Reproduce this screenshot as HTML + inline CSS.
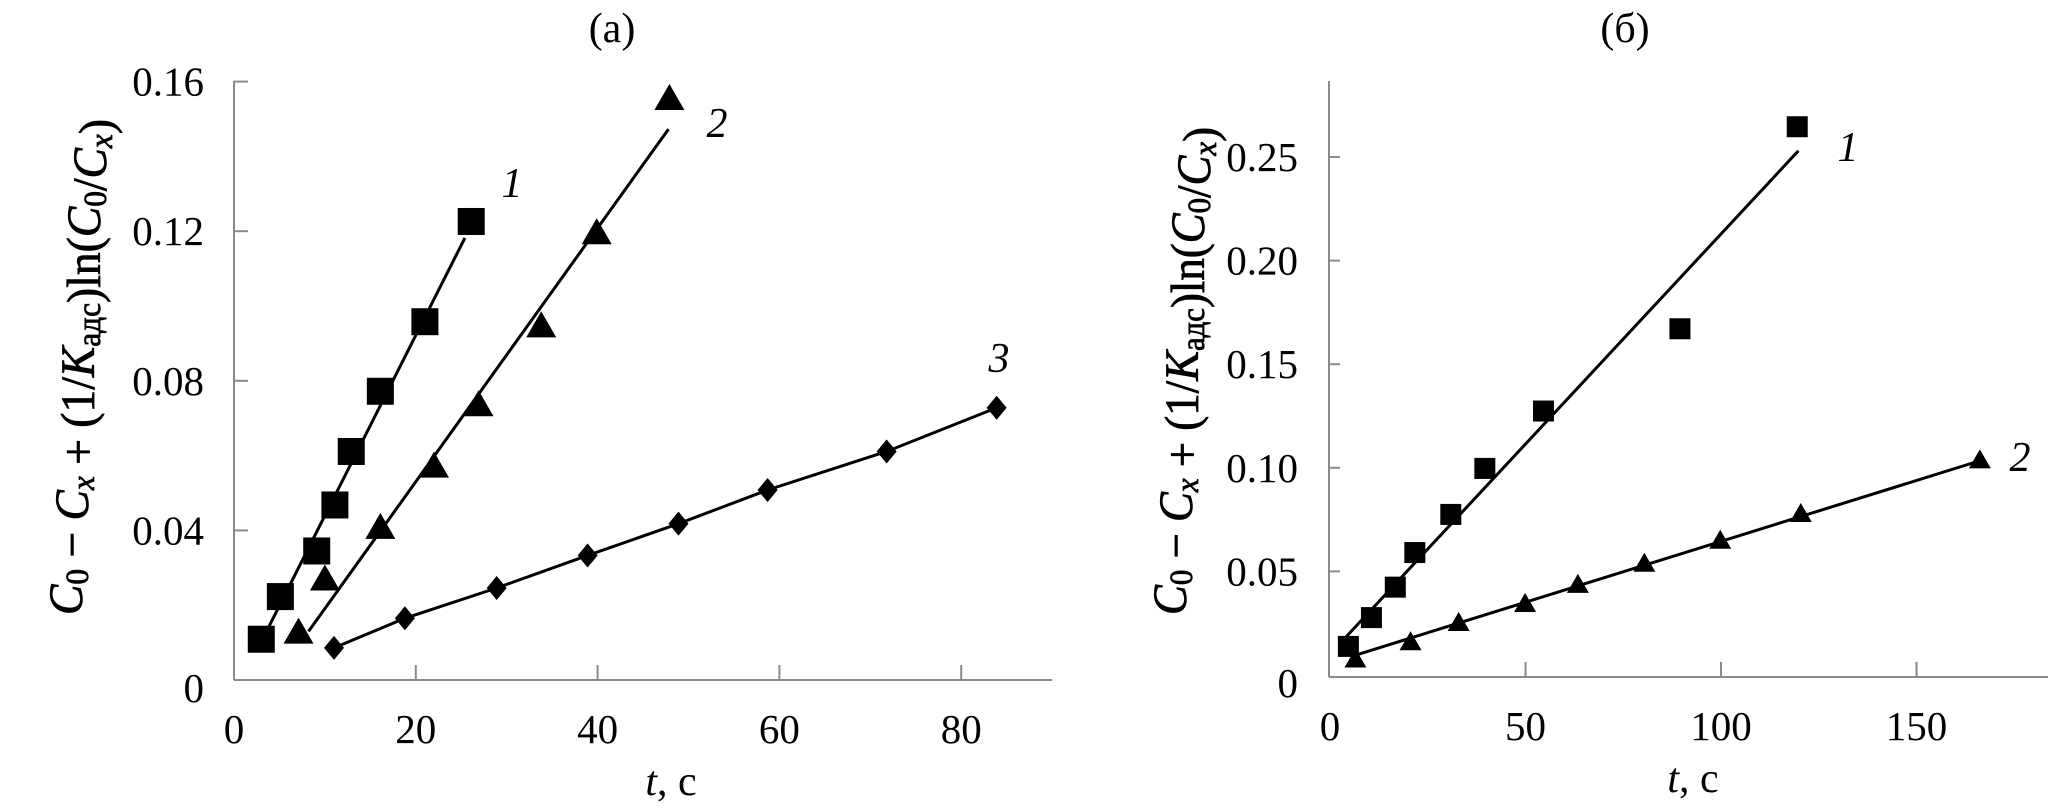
<!DOCTYPE html>
<html><head><meta charset="utf-8"><style>
html,body{margin:0;padding:0;background:#fff;}
svg{display:block;font-family:"Liberation Serif",serif;}
</style></head><body>
<svg id="fig" width="2067" height="812" viewBox="0 0 2067 812" xmlns="http://www.w3.org/2000/svg">
<g id="pa"></g>
<g id="pb"></g>
</svg>
<script>
// Panel (a) data
const aXTicks = [0, 20, 40, 60, 80];
const aYTicks = [0, 0.04, 0.08, 0.12, 0.16];
const aYTickLabels = ["0", "0.04", "0.08", "0.12", "0.16"];
const a1T = [3.0, 5.1, 9.1, 11.1, 12.9, 16.1, 21.0, 26.1];
const a1V = [0.0109, 0.0223, 0.0345, 0.0468, 0.0611, 0.0772, 0.0958, 0.1226];
const a1FitT = [3.8, 25.4];
const a1FitV = [0.0141, 0.1182];
const a2T = [7.1, 10.0, 16.1, 22.0, 26.9, 33.8, 39.9, 47.9];
const a2V = [0.0125, 0.0267, 0.0405, 0.0569, 0.0733, 0.0944, 0.1193, 0.1552];
const a2FitT = [8.2, 47.8];
const a2FitV = [0.0130, 0.1473];
const a3T = [11.0, 18.8, 28.9, 38.9, 48.9, 58.7, 71.8, 83.9];
const a3V = [0.0086, 0.0165, 0.0246, 0.0333, 0.0418, 0.0508, 0.0611, 0.0728];
// Panel (b) data
const bXTicks = [0, 50, 100, 150];
const bYTicks = [0, 0.05, 0.10, 0.15, 0.20, 0.25];
const bYTickLabels = ["0", "0.05", "0.10", "0.15", "0.20", "0.25"];
const b1T = [4.7, 10.6, 16.7, 21.7, 30.9, 39.6, 54.6, 89.5, 119.5];
const b1V = [0.0138, 0.0277, 0.0424, 0.0591, 0.0775, 0.0997, 0.1274, 0.1671, 0.2646];
const b1FitT = [4.1, 119.8];
const b1FitV = [0.0184, 0.253];
const b2T = [6.5, 20.6, 32.9, 49.9, 63.4, 80.4, 99.8, 120.4, 166.2];
const b2V = [0.0073, 0.0156, 0.0249, 0.0341, 0.0433, 0.0535, 0.0646, 0.0775, 0.1034];
const b2FitT = [5.9, 166.2];
const b2FitV = [0.0092, 0.1034];

const NS = "http://www.w3.org/2000/svg";
function mk(parent, tag, attrs, text) {
  const e = document.createElementNS(NS, tag);
  for (const k in attrs) e.setAttribute(k, attrs[k]);
  if (text !== undefined) e.textContent = text;
  parent.appendChild(e);
  return e;
}

function axes(g, cfg) {
  const ax = mk(g, "line", {x1: cfg.x0, y1: cfg.y0, x2: cfg.xEnd, y2: cfg.y0, stroke: "#8a8a8a", "stroke-width": 2});
  
  
  const ay = mk(g, "line", {x1: cfg.x0, y1: cfg.y0, x2: cfg.x0, y2: cfg.yTop, stroke: "#8a8a8a", "stroke-width": 2});
  
  
  cfg.xTicks.forEach(t => {
    const x = cfg.sx(t);
    if (t !== 0) {
      const tk = mk(g, "line", {x1: x, y1: cfg.y0, x2: x, y2: cfg.y0 - 15, stroke: "#8a8a8a", "stroke-width": 2});
      
      
    }
    const lb = mk(g, "text", {x: x, y: cfg.y0 + 63, "font-size": 41, "text-anchor": "middle"}, String(t));
    
    
  });
  cfg.yTicks.forEach((v, i) => {
    const y = cfg.sy(v);
    if (v !== 0) {
      const tk = mk(g, "line", {x1: cfg.x0, y1: y, x2: cfg.x0 + cfg.tickIn, y2: y, stroke: "#8a8a8a", "stroke-width": 2});
      
      
    }
    const lb = mk(g, "text", {x: cfg.labelX, y: y + 14 + (v === 0 ? 8 : 0), "font-size": 41, "text-anchor": "end"}, cfg.yLabels[i]);
    
    
  });
  const xt = mk(g, "text", {x: cfg.xTitleX, y: cfg.y0 + 115, "font-size": 42, "text-anchor": "middle"});
  
  
  mk(xt, "tspan", {"font-style": "italic"}, "t");
  mk(xt, "tspan", {}, ", с");
  const yt = mk(g, "text", {x: 0, y: 0, "font-size": 48, "text-anchor": "middle", stroke: "#000", "stroke-width": 0.8,
    transform: `translate(${cfg.yTitleX},${cfg.yTitleY}) rotate(-90)`, textLength: cfg.yTitleLen, lengthAdjust: "spacingAndGlyphs"});
  
  
  const parts = [["C","i"],["0","s"],[" − ",""],["C","i"],["x","si"],[" + (1/",""],["K","i"],["адс","s"],[")ln(",""],["C","i"],["0","s"],["/",""],["C","i"],["x","si"],[")",""]];
  parts.forEach(p => {
    const a = {};
    if (p[1].includes("i")) a["font-style"] = "italic";
    if (p[1].includes("s")) { a["font-size"] = 33; a["dy"] = 6; }
    mk(yt, "tspan", a, p[0]);
    if (p[1].includes("s")) { mk(yt, "tspan", {dy: -6}, ""); }
  });
  const tt = mk(g, "text", {x: cfg.titleX, y: 42, "font-size": 42, "text-anchor": "middle"}, cfg.title);
  
  
}

function fit(g, sx, sy, T, V, name) {
  const l = mk(g, "line", {x1: sx(T[0]), y1: sy(V[0]), x2: sx(T[1]), y2: sy(V[1]), stroke: "#000", "stroke-width": 3});
  
  
}
function polyline(g, sx, sy, T, V, name) {
  const p = mk(g, "polyline", {points: T.map((t, i) => sx(t) + "," + sy(V[i])).join(" "), fill: "none", stroke: "#000", "stroke-width": 3});
  
  
}
function squares(g, sx, sy, T, V, s, name) {
  T.forEach((t, i) => {
    const r = mk(g, "rect", {x: sx(t) - s / 2, y: sy(V[i]) - s / 2, width: s, height: s, fill: "#000"});
    
    
  });
}
function triangles(g, sx, sy, T, V, w, h, name) {
  T.forEach((t, i) => {
    const x = sx(t), y = sy(V[i]);
    const p = mk(g, "polygon", {points: `${x},${y - h * 0.6} ${x - w / 2},${y + h * 0.4} ${x + w / 2},${y + h * 0.4}`, fill: "#000"});
    
    
  });
}
function diamonds(g, sx, sy, T, V, w, h, name) {
  T.forEach((t, i) => {
    const x = sx(t), y = sy(V[i]);
    const p = mk(g, "polygon", {points: `${x},${y - h} ${x + w},${y} ${x},${y + h} ${x - w},${y}`, fill: "#000"});
    
    
  });
}
function label(g, x, y, txt, name) {
  const t = mk(g, "text", {x: x, y: y, "font-size": 42, "font-style": "italic", "text-anchor": "middle"}, txt);
  
  
}

// Panel a
const ga = document.getElementById("pa");
const sxA = t => 234 + t * 9.09;
const syA = v => 680 - v * 3740;
axes(ga, {x0: 234, y0: 680, xEnd: 1052, yTop: 81, sx: sxA, sy: syA, xTicks: aXTicks, yTicks: aYTicks, yLabels: aYTickLabels,
  tickIn: 14, labelX: 204, xTitleX: 671, yTitleX: 82, yTitleY: 367, yTitleLen: 496, titleX: 612, title: "(a)"});
fit(ga, sxA, syA, a1FitT, a1FitV, "fit-line-series-1");
fit(ga, sxA, syA, a2FitT, a2FitV, "fit-line-series-2");
polyline(ga, sxA, syA, a3T, a3V, "fit-line-series-3");
squares(ga, sxA, syA, a1T, a1V, 27, "point-series-1");
triangles(ga, sxA, syA, a2T, a2V, 30, 26, "point-series-2");
diamonds(ga, sxA, syA, a3T, a3V, 10, 12, "point-series-3");
label(ga, 512, 197, "1", "series-label-1");
label(ga, 717, 137, "2", "series-label-2");
label(ga, 999, 372, "3", "series-label-3");

// Panel b
const gb = document.getElementById("pb");
const sxB = t => 1330 + t * 3.91;
const syB = v => 675 - v * 2072;
axes(gb, {x0: 1329, y0: 677, xEnd: 2048, yTop: 81, sx: sxB, sy: syB, xTicks: bXTicks, yTicks: bYTicks, yLabels: bYTickLabels,
  tickIn: 11, labelX: 1298, xTitleX: 1693, yTitleX: 1186, yTitleY: 371, yTitleLen: 488, titleX: 1625, title: "(б)"});
fit(gb, sxB, syB, b1FitT, b1FitV, "fit-line-series-1");
fit(gb, sxB, syB, b2FitT, b2FitV, "fit-line-series-2");
squares(gb, sxB, syB, b1T, b1V, 21, "point-series-1");
triangles(gb, sxB, syB, b2T, b2V, 22, 19, "point-series-2");
label(gb, 1848, 161, "1", "series-label-1");
label(gb, 2020, 471, "2", "series-label-2");
</script>
</body></html>
